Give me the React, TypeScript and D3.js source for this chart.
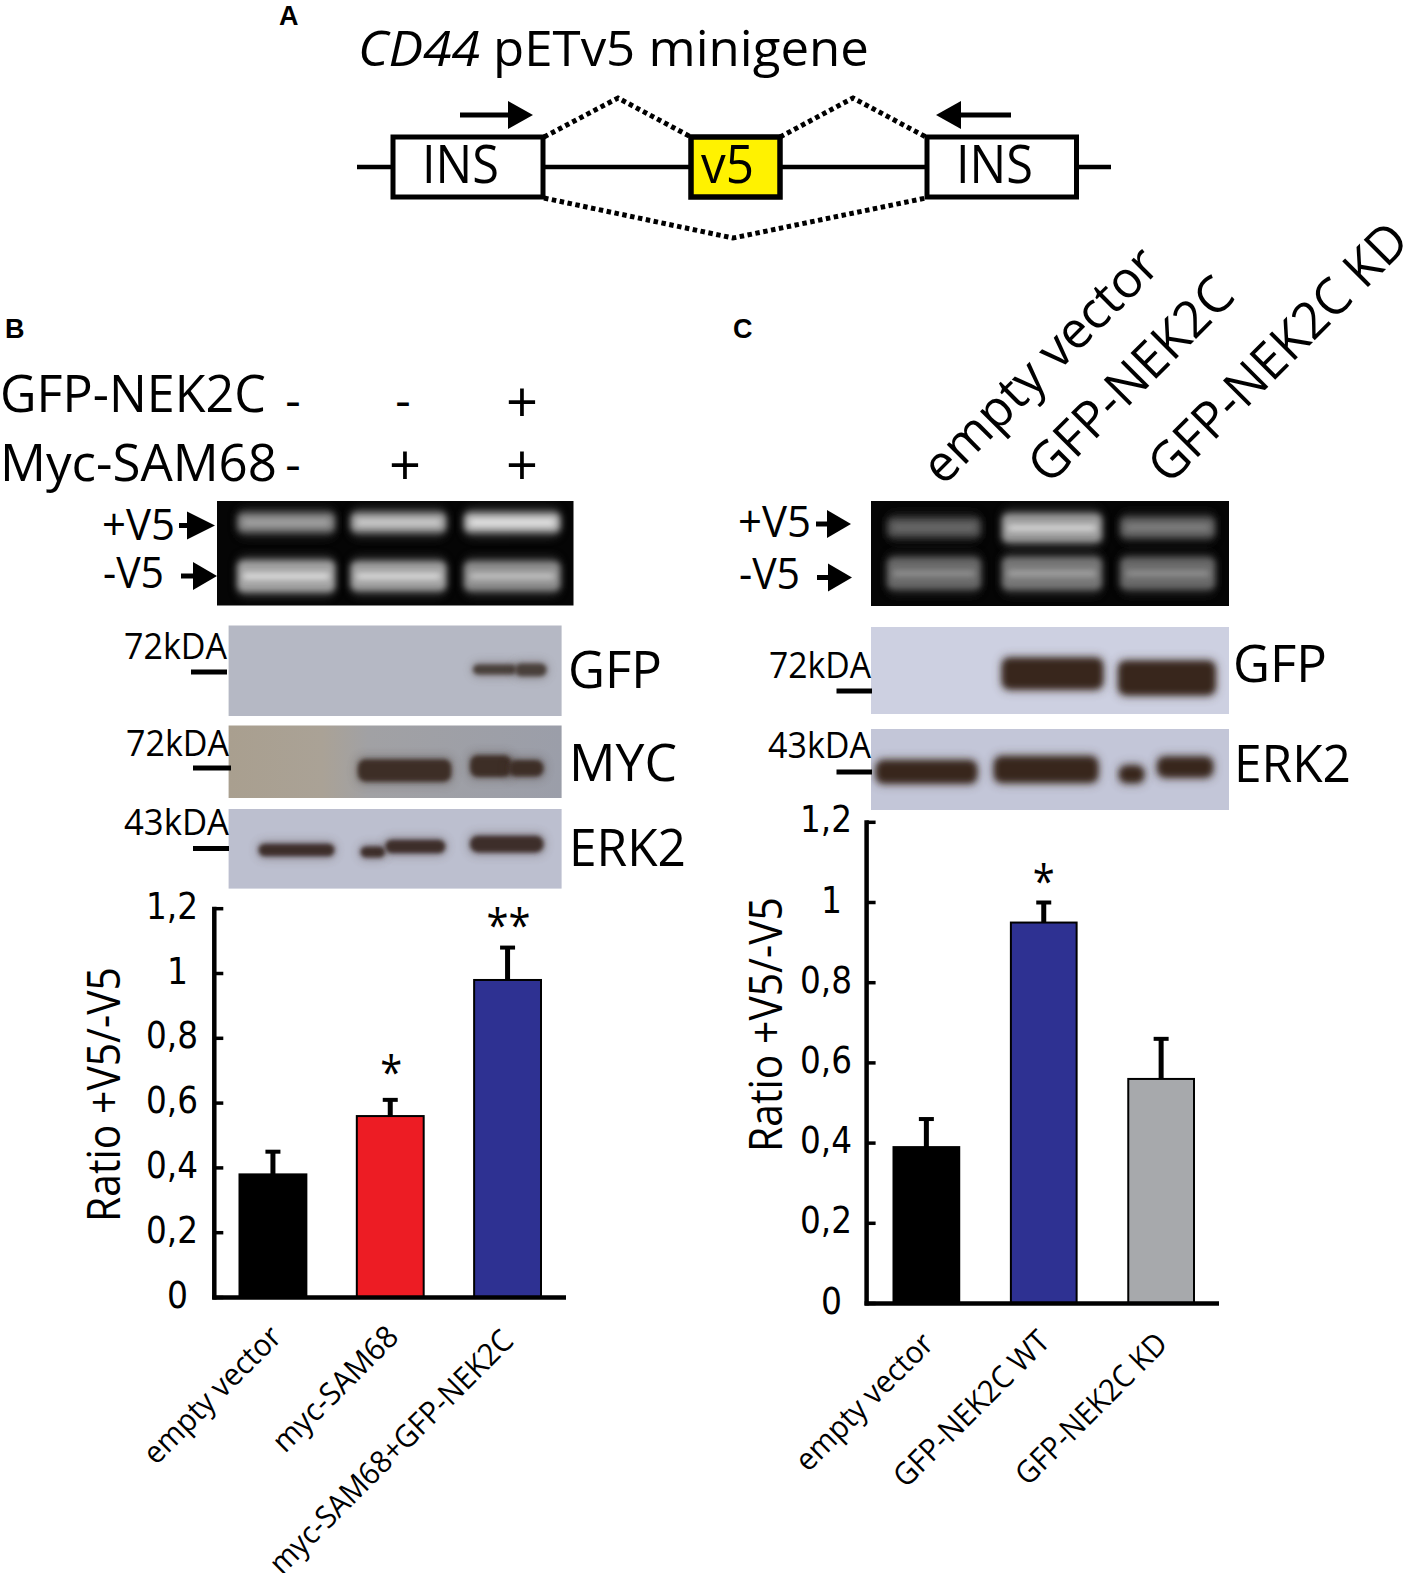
import React from "react";
import * as d3 from "d3";

const W = 1407, H = 1573;
const SANS = "'Open Sans', sans-serif";
const WIDE = "'DejaVu Sans', sans-serif";

// ---- bar chart data
const ticks = [0, 0.2, 0.4, 0.6, 0.8, 1, 1.2];
const catsB = ["empty vector", "myc-SAM68", "myc-SAM68+GFP-NEK2C"];
const valsB = [0.38, 0.56, 0.98];
const errsB = [0.45, 0.61, 1.08];
const colsB = ["#000000", "#ed1c24", "#2e3192"];
const sigB = ["", "*", "**"];
const catsC = ["empty vector", "GFP-NEK2C WT", "GFP-NEK2C KD"];
const valsC = [0.39, 0.95, 0.56];
const errsC = [0.46, 1.0, 0.66];
const colsC = ["#000000", "#2e3192", "#a7a9ac"];
const sigC = ["", "*", ""];

// ---- gel bands: [from, to, middle, height, grey level] as fractions of the gel picture
const gelB = [
  [0.057, 0.331, 0.206, 0.19, 180], [0.375, 0.643, 0.206, 0.19, 225], [0.693, 0.963, 0.206, 0.19, 252],
  [0.057, 0.331, 0.72, 0.3, 240], [0.375, 0.643, 0.72, 0.28, 236], [0.693, 0.963, 0.72, 0.28, 210],
];
const gelC = [
  [0.045, 0.307, 0.252, 0.19, 118], [0.366, 0.645, 0.257, 0.27, 230], [0.696, 0.961, 0.252, 0.2, 140],
  [0.045, 0.307, 0.69, 0.3, 155], [0.366, 0.645, 0.69, 0.31, 175], [0.696, 0.961, 0.69, 0.3, 155],
];
// ---- blot bands: [from, to, middle, height]
const blotGfpB = [[0.734, 0.865, 0.486, 0.11], [0.86, 0.955, 0.49, 0.14]];
const blotMycB = [[0.388, 0.669, 0.62, 0.31], [0.725, 0.85, 0.56, 0.3], [0.84, 0.946, 0.59, 0.23]];
const blotErkB = [[0.09, 0.318, 0.515, 0.16], [0.396, 0.47, 0.54, 0.14], [0.47, 0.651, 0.47, 0.17], [0.725, 0.946, 0.44, 0.21]];
const blotGfpC = [[0.366, 0.648, 0.535, 0.36], [0.691, 0.962, 0.586, 0.39]];
const blotErkC = [[0.014, 0.296, 0.53, 0.28], [0.344, 0.634, 0.5, 0.32], [0.693, 0.763, 0.56, 0.21], [0.8, 0.955, 0.47, 0.25]];

type TProps = { x: number; y: number; s: number; len?: number; rot?: number; f?: string; w?: number; i?: boolean; a?: string; c?: string; children: any };
function T({ x, y, s, len, rot, f, w, i, a, c, children }: TProps) {
  return (
    <text
      transform={`translate(${x},${y})${rot ? ` rotate(${rot})` : ""}`}
      fontFamily={f || SANS}
      fontSize={s}
      fontWeight={w || 400}
      fontStyle={i ? "italic" : "normal"}
      textAnchor={a || "start"}
      fill={c || "#000"}
      textLength={len}
      lengthAdjust={len ? "spacingAndGlyphs" : undefined}
    >
      {children}
    </text>
  );
}

function Arrow({ x0, x1, xh, y, hh }: { x0: number; x1: number; xh: number; y: number; hh: number }) {
  return (
    <g>
      <line x1={x0} x2={x1} y1={y} y2={y} stroke="#000" strokeWidth={5} />
      <path d={`M${x1},${y - hh}L${xh},${y}L${x1},${y + hh}Z`} fill="#000" />
    </g>
  );
}

function Gel({ x, y, w, h, bands, id }: { x: number; y: number; w: number; h: number; bands: number[][]; id: string }) {
  const sx = d3.scaleLinear([0, 1], [x, x + w]);
  const sy = d3.scaleLinear([0, 1], [y, y + h]);
  return (
    <g>
      <clipPath id={id}><rect x={x} y={y} width={w} height={h} /></clipPath>
      <rect x={x} y={y} width={w} height={h} fill="#050505" />
      <g clipPath={`url(#${id})`}>
        {bands.map((b, i) => {
          const g = b[4];
          const halo = d3.rgb(g * 0.3, g * 0.3, g * 0.3).formatHex();
          const outer = d3.rgb(g * 0.68, g * 0.68, g * 0.68).formatHex();
          const core = d3.rgb(g, g, g).formatHex();
          const bx = sx(b[0]), bw = sx(b[1]) - sx(b[0]), bh = sy(b[3]) - y, by = sy(b[2] - b[3] / 2);
          return (
            <g key={i}>
              <rect x={bx} y={by - 5} width={bw} height={bh + 10} rx={8} fill={halo} opacity={0.65} filter="url(#b6)" />
              <rect x={bx} y={by} width={bw} height={bh} rx={6} fill={outer} filter="url(#b3)" />
              <rect x={bx + 6} y={sy(b[2]) - 3} width={bw - 12} height={6} fill={core} opacity={0.85} filter="url(#b3)" />
            </g>
          );
        })}
      </g>
    </g>
  );
}

function Blot({ x, y, w, h, bands, fill, band, blur, id }: { x: number; y: number; w: number; h: number; bands: number[][]; fill: string; band: string; blur: string; id: string }) {
  const sx = d3.scaleLinear([0, 1], [x, x + w]);
  const sy = d3.scaleLinear([0, 1], [y, y + h]);
  return (
    <g>
      <clipPath id={id}><rect x={x} y={y} width={w} height={h} /></clipPath>
      <rect x={x} y={y} width={w} height={h} fill={fill} />
      <g clipPath={`url(#${id})`}>
        {bands.map((b, i) => {
          const bx = sx(b[0]), bw = sx(b[1]) - sx(b[0]), bh = sy(b[3]) - y, by = sy(b[2] - b[3] / 2);
          return (
            <g key={i}>
              <rect x={bx - 2} y={by - 3} width={bw + 4} height={bh + 6} rx={8} fill={band} opacity={0.3} filter="url(#b6)" />
              <rect x={bx} y={by} width={bw} height={bh} rx={Math.min(8, bh / 2)} fill={band} filter={`url(#${blur})`} />
            </g>
          );
        })}
      </g>
    </g>
  );
}

type BC = {
  cats: string[]; vals: number[]; errs: number[]; cols: string[]; sig: string[];
  axisX: number; y0: number; perUnit: number; range: [number, number]; pad: number; axisEnd: number;
  labelRight: number; labelRightShort: number; yLabelX: number; yLabelY: number;
  sigY: number[]; sigDx: number; catPos: number[][];
};

function BarChart(p: BC) {
  const y = d3.scaleLinear([0, 1.2], [p.y0, p.y0 - 1.2 * p.perUnit]);
  const x = d3.scaleBand<string>().domain(p.cats).range(p.range).paddingInner(p.pad).paddingOuter(0);
  const fmt = (v: number) => String(v).replace(".", ",");
  return (
    <g>
      {p.cats.map((c, i) => {
        const cx = x(c)! + x.bandwidth() / 2;
        return (
          <g key={c}>
            <line x1={cx} x2={cx} y1={y(p.vals[i])} y2={y(p.errs[i])} stroke="#000" strokeWidth={5} />
            <line x1={cx - 7.5} x2={cx + 7.5} y1={y(p.errs[i])} y2={y(p.errs[i])} stroke="#000" strokeWidth={4} />
            <rect x={x(c)} y={y(p.vals[i])} width={x.bandwidth()} height={p.y0 - y(p.vals[i])} fill={p.cols[i]} stroke="#000" strokeWidth={2} />
            {p.sig[i] && (
              <T x={cx + p.sigDx} y={p.sigY[i]} s={46} a="middle" len={p.sig[i].length * 22}>{p.sig[i]}</T>
            )}
            <T x={p.catPos[i][0]} y={p.catPos[i][1]} s={31} rot={-45} len={p.catPos[i][2]}>{c}</T>
          </g>
        );
      })}
      <line x1={p.axisX} x2={p.axisX} y1={y(1.2) - 2} y2={p.y0 + 2} stroke="#000" strokeWidth={4.5} />
      <line x1={p.axisX - 2} x2={p.axisEnd} y1={p.y0} y2={p.y0} stroke="#000" strokeWidth={4.5} />
      {ticks.map((t) => {
        const short = t === 0 || t === 1;
        return (
          <g key={t}>
            <line x1={p.axisX} x2={p.axisX + 9} y1={y(t)} y2={y(t)} stroke="#000" strokeWidth={3.5} />
            <T x={short ? p.labelRightShort : p.labelRight} y={y(t) + 10} s={37} f={WIDE} a="end" len={short ? 21 : 52}>{fmt(t)}</T>
          </g>
        );
      })}
      <T x={p.yLabelX} y={p.yLabelY} s={45} rot={-90} len={255}>Ratio +V5/-V5</T>
    </g>
  );
}

export default function App() {
  return (
    <svg width={W} height={H} viewBox={`0 0 ${W} ${H}`} style={{ position: "absolute", left: 0, top: 0, background: "#fff" }}>
      <defs>
        <filter id="b6" x="-30%" y="-150%" width="160%" height="400%"><feGaussianBlur stdDeviation="5" /></filter>
        <filter id="b3" x="-20%" y="-80%" width="140%" height="260%"><feGaussianBlur stdDeviation="3" /></filter>
        <filter id="b2" x="-20%" y="-80%" width="140%" height="260%"><feGaussianBlur stdDeviation="2.2" /></filter>
        <linearGradient id="mycBg" x1="0" x2="1" y1="0" y2="0">
          <stop offset="0" stopColor="#a99f8f" />
          <stop offset="0.28" stopColor="#aaa296" />
          <stop offset="0.42" stopColor="#a1a1a4" />
          <stop offset="1" stopColor="#9b9ea9" />
        </linearGradient>
      </defs>

      {/* Panel letters */}
      <T x={279} y={25} s={27} f="'Liberation Sans', sans-serif" w={700}>A</T>
      <T x={5} y={338} s={27} f="'Liberation Sans', sans-serif" w={700}>B</T>
      <T x={733} y={338} s={27} f="'Liberation Sans', sans-serif" w={700}>C</T>

      {/* Panel A */}
      <T x={358} y={66} s={50} i len={122}>CD44</T>
      <T x={493} y={66} s={50} len={376}>pETv5 minigene</T>
      <line x1={357} x2={1111} y1={167} y2={167} stroke="#000" strokeWidth={4.5} />
      <rect x={393} y={137} width={150} height={60} fill="#fff" stroke="#000" strokeWidth={5} />
      <rect x={927} y={137} width={149.5} height={60} fill="#fff" stroke="#000" strokeWidth={5} />
      <rect x={691} y={137} width={89} height={60} fill="#fff200" stroke="#000" strokeWidth={5.5} />
      <T x={422} y={183} s={53} len={77}>INS</T>
      <T x={956} y={183} s={53} len={77}>INS</T>
      <T x={701} y={183} s={53} len={53}>v5</T>
      <g fill="none" stroke="#000" strokeWidth={5} strokeDasharray="4.5 3.5">
        <path d="M544,137L618,98L691,137" />
        <path d="M780,137L853,98L926,137" />
        <path d="M544,198L733,238L926,198" />
      </g>
      <Arrow x0={460} x1={508} xh={533} y={115} hh={14} />
      <Arrow x0={1011} x1={961} xh={936} y={115} hh={14} />

      {/* Panel B header */}
      <T x={0} y={412} s={52} len={266}>GFP-NEK2C</T>
      <T x={0} y={481} s={52} len={277}>Myc-SAM68</T>
      <T x={293} y={417} s={48} a="middle">-</T>
      <T x={293} y={481} s={48} a="middle">-</T>
      <T x={403} y={417} s={48} a="middle">-</T>
      <T x={405} y={485} s={56} a="middle">+</T>
      <T x={522} y={422} s={56} a="middle">+</T>
      <T x={522} y={485} s={56} a="middle">+</T>

      <Gel id="g1" x={217} y={501} w={356.5} h={104.5} bands={gelB} />
      <T x={102} y={540} s={44} len={73}>+V5</T>
      <T x={103} y={588} s={44} len={61}>-V5</T>
      <Arrow x0={179} x1={187} xh={215} y={525.5} hh={14} />
      <Arrow x0={181} x1={193} xh={217} y={576} hh={14} />

      <Blot id="p1" x={228.6} y={625.5} w={333} h={90.5} bands={blotGfpB} fill="#b5b8c4" band="#4a3f3a" blur="b2" />
      <rect x={228.6} y={725.5} width={333} height={72.5} fill="url(#mycBg)" />
      <Blot id="p2" x={228.6} y={725.5} w={333} h={72.5} bands={blotMycB} fill="transparent" band="#3e2d27" blur="b2" />
      <Blot id="p3" x={228.6} y={809} w={333} h={79.6} bands={blotErkB} fill="#bcbfcf" band="#3e2f29" blur="b2" />

      <T x={124} y={659} s={37} len={103}>72kDA</T>
      <T x={126} y={756} s={37} len={103}>72kDA</T>
      <T x={124} y={835} s={37} len={105}>43kDA</T>
      <line x1={191} x2={227} y1={672} y2={672} stroke="#000" strokeWidth={5} />
      <line x1={193} x2={231} y1={768} y2={768} stroke="#000" strokeWidth={5} />
      <line x1={193} x2={229} y1={848.5} y2={848.5} stroke="#000" strokeWidth={5} />
      <T x={568} y={687.5} s={52} len={94}>GFP</T>
      <T x={569} y={781} s={52} len={108}>MYC</T>
      <T x={569} y={866} s={52} len={117}>ERK2</T>

      {/* Panel C header */}
      <T x={943} y={487} s={51} rot={-45} len={310}>empty vector</T>
      <T x={1049} y={486} s={51} rot={-45} len={266}>GFP-NEK2C</T>
      <T x={1169} y={486} s={51} rot={-45} len={343}>GFP-NEK2C KD</T>

      <Gel id="g2" x={871} y={501} w={358} h={105} bands={gelC} />
      <T x={738} y={537} s={44} len={73}>+V5</T>
      <T x={739} y={589} s={44} len={61}>-V5</T>
      <Arrow x0={816} x1={827} xh={851} y={524} hh={14} />
      <Arrow x0={817} x1={828} xh={852} y={577.5} hh={14} />

      <Blot id="p4" x={871} y={627} w={358} h={87} bands={blotGfpC} fill="#cdd0e1" band="#38281c" blur="b3" />
      <Blot id="p5" x={871} y={729} w={358} h={81} bands={blotErkC} fill="#c3c6d8" band="#38281c" blur="b3" />
      <T x={769} y={678} s={37} len={102}>72kDA</T>
      <T x={768} y={758} s={37} len={103}>43kDA</T>
      <line x1={836.5} x2={872} y1={691} y2={691} stroke="#000" strokeWidth={5} />
      <line x1={836.5} x2={872} y1={772} y2={772} stroke="#000" strokeWidth={5} />
      <T x={1233} y={682} s={52} len={94}>GFP</T>
      <T x={1234} y={782} s={52} len={117}>ERK2</T>

      {/* Bar charts */}
      <BarChart cats={catsB} vals={valsB} errs={errsB} cols={colsB} sig={sigB}
        axisX={214.3} y0={1297.5} perUnit={324} range={[239.5, 541]} pad={0.43} axisEnd={566}
        labelRight={198} labelRightShort={188} yLabelX={120} yLabelY={1222}
        sigY={[0, 1089, 942]} sigDx={1}
        catPos={[[156, 1466, 180], [285, 1454, 163], [282, 1576, 330]]} />
      <BarChart cats={catsC} vals={valsC} errs={errsC} cols={colsC} sig={sigC}
        axisX={866.6} y0={1303.5} perUnit={401} range={[893.5, 1194]} pad={0.44} axisEnd={1219}
        labelRight={852} labelRightShort={842} yLabelX={782} yLabelY={1152}
        sigY={[0, 898, 0]} sigDx={0}
        catPos={[[808, 1473, 180], [906, 1489, 206], [1028, 1487, 200]]} />
    </svg>
  );
}
